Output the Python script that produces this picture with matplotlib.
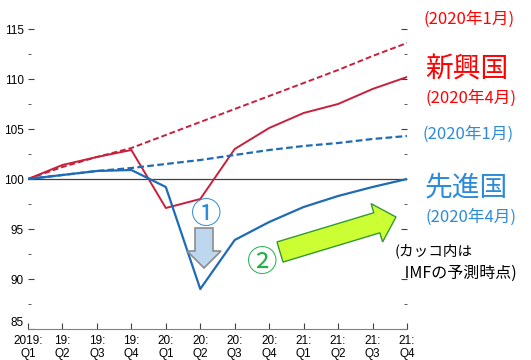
import numpy as np
import matplotlib.pyplot as plt
from matplotlib.patches import Polygon

plt.rcParams['font.family'] = ['Noto Sans CJK JP', 'DejaVu Sans']

quarters = ["2019:\nQ1", "19:\nQ2", "19:\nQ3", "19:\nQ4", "20:\nQ1", "20:\nQ2",
            "20:\nQ3", "20:\nQ4", "21:\nQ1", "21:\nQ2", "21:\nQ3", "21:\nQ4"]
yticks = [85, 90, 95, 100, 105, 110, 115]

# emerging economies (新興国)
em_jan = [100.0, 101.2, 102.2, 103.1, 104.4, 105.7, 107.0, 108.3, 109.6, 110.9, 112.3, 113.6]
em_apr = [100.0, 101.4, 102.2, 102.9, 97.1, 98.0, 103.0, 105.1, 106.6, 107.5, 109.0, 110.2]
# advanced economies (先進国)
adv_jan = [100.0, 100.4, 100.8, 101.1, 101.5, 101.9, 102.4, 102.9, 103.3, 103.6, 104.0, 104.3]
adv_apr = [100.0, 100.4, 100.8, 100.9, 99.2, 89.0, 93.9, 95.7, 97.2, 98.3, 99.2, 100.0]

RED = "#c8203c"
BLUE = "#1f6bb5"
TXT_BLUE = "#2e8bd8"
W, H = 531, 360


def fxy(x, y):
    # image pixel -> figure fraction
    return x / W, 1 - y / H


def arrow_poly(tail, tip, shaft_w, head_w, head_len):
    t = np.array(tail, float)
    p = np.array(tip, float)
    d = p - t
    d /= np.hypot(*d)
    n = np.array([-d[1], d[0]])
    b = p - d * head_len
    pts = [t + n * shaft_w / 2, b + n * shaft_w / 2, b + n * head_w / 2, p,
           b - n * head_w / 2, b - n * shaft_w / 2, t - n * shaft_w / 2]
    return [fxy(*q) for q in pts]


fig = plt.figure(figsize=(5.31, 3.6), dpi=100)
ax = fig.add_axes([28 / W, 1 - 329 / H, (407 - 28) / W, 320 / H])

x = np.arange(len(quarters))
ax.axhline(100, color="#404040", lw=0.9, zorder=1)
ax.plot(x, em_jan, color=RED, lw=1.4, ls=(0, (3, 1.5)))
ax.plot(x, em_apr, color=RED, lw=1.4)
ax.plot(x, adv_jan, color=BLUE, lw=1.6, ls=(0, (3, 1.5)))
ax.plot(x, adv_apr, color=BLUE, lw=1.6)

ax.set_xlim(0, 11)
ax.set_ylim(85, 117)
ax.set_yticks(yticks)
# bottom label is drawn separately, lifted above the x axis
ax.set_yticklabels([""] + [str(v) for v in yticks[1:]], family="Liberation Sans", fontsize=8.5)
ax.annotate(str(yticks[0]), xy=(0, yticks[0]), xycoords=("axes fraction", "data"),
            xytext=(-3, 0), textcoords="offset points", ha="right", va="bottom",
            family="Liberation Sans", fontsize=8.5)
ax.set_yticks(np.arange(87.5, 115, 5), minor=True)
ax.set_xticks(x)
ax.set_xticklabels(quarters, family="Liberation Sans", fontsize=8.5, linespacing=1.15)
ax.tick_params(axis="y", which="both", direction="in", right=True, color="#404040")
ax.tick_params(axis="y", which="major", length=4, pad=3)
ax.tick_params(axis="y", which="minor", length=2.5)
ax.tick_params(axis="x", direction="in", length=4, color="#404040", pad=4)
for s in ["left", "right", "top"]:
    ax.spines[s].set_visible(False)
ax.spines["bottom"].set_color("#808080")

# labels on the right
fig.text(*fxy(469, 19), "(2020年1月)", color="red", fontsize=12, ha="center", va="center")
fig.text(*fxy(467, 70), "新興国", color="red", fontsize=20, ha="center", va="center")
fig.text(*fxy(471, 98), "(2020年4月)", color="red", fontsize=12, ha="center", va="center")
fig.text(*fxy(468, 134), "(2020年1月)", color=TXT_BLUE, fontsize=12, ha="center", va="center")
fig.text(*fxy(466, 187), "先進国", color=TXT_BLUE, fontsize=20, ha="center", va="center")
fig.text(*fxy(471, 217), "(2020年4月)", color=TXT_BLUE, fontsize=12, ha="center", va="center")
fig.text(*fxy(395, 251), "(カッコ内は", fontsize=10.5, ha="left", va="center")
fig.text(*fxy(401, 273), " IMFの予測時点)", fontsize=11.5, ha="left", va="center")

# annotations
fig.text(*fxy(206, 216), "①", color=TXT_BLUE, fontsize=22, ha="center", va="center")
fig.text(*fxy(262, 264), "②", color="#22b04b", fontsize=22, ha="center", va="center")
fig.patches.append(Polygon(arrow_poly((204, 228), (204, 268), 18, 34, 17), closed=True,
                           transform=fig.transFigure, fc="#bdd7ee", ec="#8c8c8c", lw=1.2))
fig.patches.append(Polygon(arrow_poly((280, 252), (396, 217), 21, 40, 20), closed=True,
                           transform=fig.transFigure, fc="#ccff33", ec="#339933", lw=1.0))

fig.savefig("out.png", dpi=100)
